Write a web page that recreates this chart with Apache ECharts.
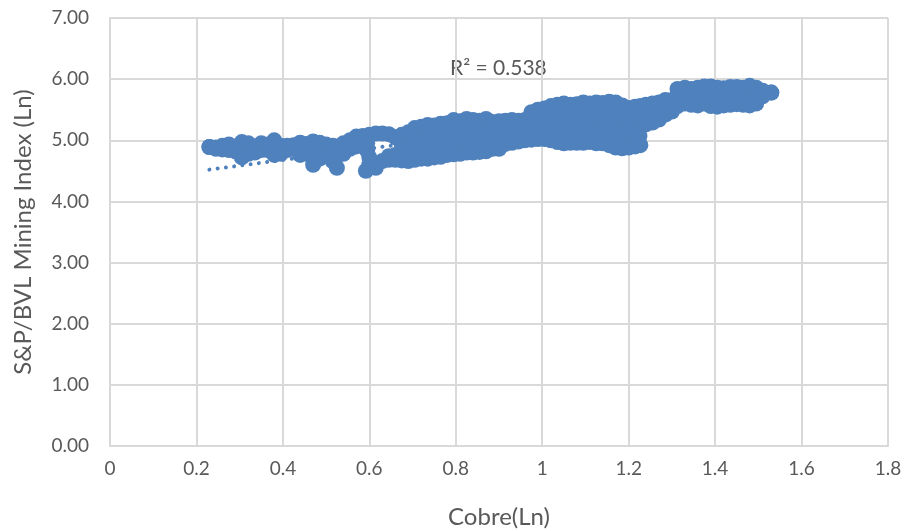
<!DOCTYPE html>
<html>
<head>
<meta charset="utf-8">
<script src="https://cdn.jsdelivr.net/npm/echarts@6/dist/echarts.min.js"></script>
<style>html,body{margin:0;padding:0;background:#fff}#c{width:907px;height:531px}</style>
</head>
<body>
<div id="c"></div>
<script>
const edgeX = [.23,.245,.26,.275,.29,.305,.32,.335,.35,.365,.38,.395,.41,.425,.44,.455,.47,.485,.50,.515,.525,.54,.555,.57,.585,.60,.615,.63,.645,.66,.675,.69,.705,.72,.735,.75,.765,.78,.795,.81,.825,.84,.855,.87,.885,.90,.915,.93,.945,.96,.975,.99,1.005,1.02,1.035,1.05,1.065,1.08,1.095,1.11,1.125,1.14,1.155,1.17,1.185,1.20,1.215,1.227,1.24,1.255,1.27,1.285,1.30,1.313,1.33,1.345,1.36,1.375,1.39,1.405,1.42,1.435,1.45,1.465,1.48,1.495,1.51,1.53];
const upperY = [4.89,4.88,4.91,4.93,4.90,4.97,4.95,4.90,4.95,4.93,5.00,4.91,4.91,4.92,4.96,4.94,4.98,4.96,4.93,4.91,4.90,4.95,5.00,5.06,5.07,5.09,5.11,5.11,5.10,5.05,5.09,5.13,5.20,5.22,5.25,5.24,5.27,5.28,5.33,5.31,5.35,5.33,5.32,5.35,5.30,5.31,5.32,5.33,5.32,5.33,5.46,5.50,5.52,5.56,5.58,5.60,5.58,5.59,5.62,5.60,5.62,5.61,5.63,5.62,5.57,5.53,5.55,5.56,5.58,5.60,5.62,5.66,5.66,5.84,5.86,5.84,5.86,5.88,5.88,5.86,5.85,5.87,5.87,5.86,5.89,5.86,5.81,5.78];
const lowerY = [4.89,4.86,4.85,4.84,4.82,4.72,4.78,4.80,4.84,4.84,4.76,4.78,4.84,4.86,4.76,4.78,4.60,4.70,4.76,4.66,4.55,4.78,4.86,4.90,5.00,4.60,4.55,4.66,4.68,4.68,4.67,4.66,4.68,4.70,4.70,4.72,4.73,4.76,4.77,4.78,4.80,4.80,4.81,4.82,4.86,4.86,4.94,4.96,4.98,5.00,5.01,5.02,5.02,5.00,4.97,4.95,4.96,4.96,4.96,4.97,4.95,4.95,4.92,4.88,4.87,4.88,4.90,4.92,5.26,5.29,5.34,5.42,5.47,5.56,5.60,5.58,5.57,5.60,5.56,5.55,5.57,5.58,5.59,5.58,5.57,5.60,5.72,5.78];
const innerAX = [.69,.72,.75,.78,.81,.84,.87,.90,.93,.96,.99,1.02,1.05,1.08,1.11,1.14,1.17,1.20,1.225];
const innerAY = [5.01,5.09,5.11,5.15,5.18,5.20,5.22,5.20,5.24,5.25,5.38,5.42,5.44,5.43,5.44,5.45,5.44,5.37,5.40];
const innerCY = [4.78,4.83,4.85,4.89,4.91,4.93,4.95,4.97,5.05,5.08,5.14,5.14,5.11,5.12,5.13,5.11,5.06,5.04,5.07];
const innerBX = [.705,.735,.765,.795,.825,.855,.885,.915,.945,.975,1.005,1.035,1.065,1.095,1.125,1.155,1.185,1.215,1.24,1.27,1.30,1.33,1.36,1.39,1.42,1.45,1.48];
const innerBY = [4.94,4.97,5.00,5.05,5.07,5.06,5.08,5.13,5.15,5.24,5.27,5.28,5.27,5.29,5.28,5.27,5.22,5.22,5.42,5.48,5.57,5.73,5.71,5.72,5.71,5.73,5.73];
const fillX = [.595,.595,.60,.592,.30,.31,.38,.44,.46,.47,.485,.515,.525,.54,.555,.675,.675,.66,.645,.685,.34,.405,.50,.53];
const fillY = [4.95,4.83,4.72,4.50,4.82,4.84,4.87,4.85,4.85,4.80,4.82,4.80,4.75,4.84,4.90,4.80,4.93,4.76,4.74,5.00,4.88,4.86,4.84,4.84];
const trendX = [.23,1.53];
const trendY = [4.52,5.73];
const xTitle = 'Cobre(Ln)';
const yTitle = 'S&P/BVL Mining Index (Ln)';
const rSquared = 'R² = 0.538';

const zip = (a, b) => a.map((v, i) => [v, b[i]]);
const points = [].concat(zip(edgeX, upperY), zip(edgeX, lowerY), zip(innerAX, innerAY),
  zip(innerAX, innerCY), zip(innerBX, innerBY), zip(fillX, fillY));
const FONT = 'Lato';
const GREY = '#595959';
const GRID = '#d9d9d9';
const chart = echarts.init(document.getElementById('c'), null, {renderer: 'canvas'});
const axisCommon = {
  axisLine: {show: true, onZero: false, lineStyle: {color: GRID, width: 2}},
  axisTick: {show: false},
  splitLine: {show: true, lineStyle: {color: GRID, width: 2}},
  nameLocation: 'middle',
  nameTextStyle: {color: GREY, fontFamily: FONT, fontSize: 24}
};
chart.setOption({
  animation: false,
  backgroundColor: '#fff',
  grid: {left: 110, right: 19, top: 18, bottom: 85, containLabel: false, outerBoundsMode: 'none'},
  xAxis: Object.assign({}, axisCommon, {
    type: 'value', min: 0, max: 1.8, interval: 0.2, name: xTitle, nameGap: 59,
    axisLabel: {color: GREY, fontFamily: FONT, fontSize: 19, margin: 13}
  }),
  yAxis: Object.assign({}, axisCommon, {
    type: 'value', min: 0, max: 7, interval: 1, name: yTitle, nameGap: 75,
    axisLabel: {color: GREY, fontFamily: FONT, fontSize: 19, margin: 21, formatter: v => v.toFixed(2)}
  }),
  series: [
    {type: 'scatter', data: points, symbol: 'circle', symbolSize: 16,
     itemStyle: {color: '#4f81bd', opacity: 1}, silent: true, large: false},
    {type: 'line', data: zip(trendX, trendY), symbol: 'none', silent: true, z: 3,
     lineStyle: {color: '#4f81bd', width: 4, type: [0.01, 8.3], cap: 'round'}}
  ],
  graphic: [{type: 'text', left: 450, top: 58,
    style: {text: rSquared, fill: GREY, font: '21px ' + FONT}}]
});
</script>
</body>
</html>
